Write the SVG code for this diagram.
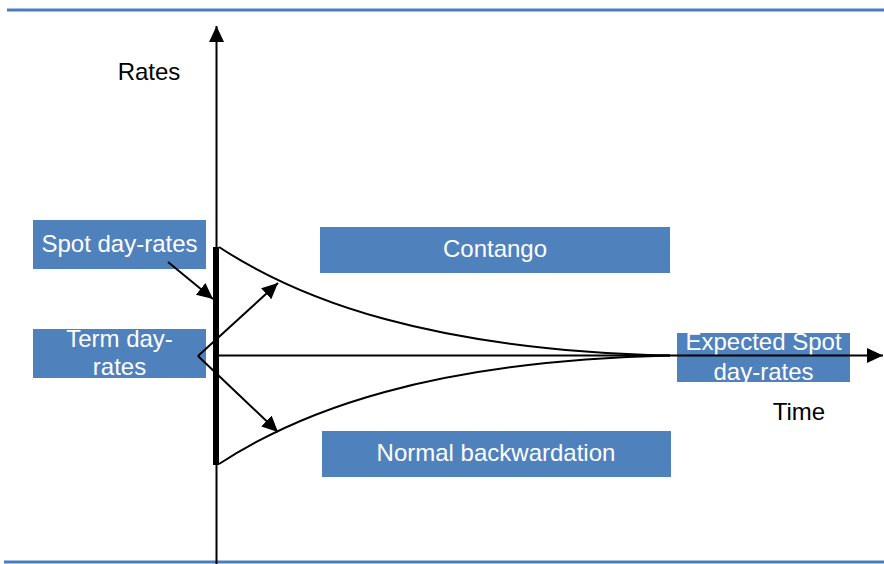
<svg xmlns="http://www.w3.org/2000/svg" width="884" height="564" viewBox="0 0 884 564">
<style>
.box{fill:#4F81BD;}
.lbl{font-family:"Liberation Sans",Arial,sans-serif;font-size:24px;fill:#FFFFFF;text-anchor:middle;}
.txt{font-family:"Liberation Sans",Arial,sans-serif;font-size:24px;fill:#000000;text-anchor:middle;}
.ln{stroke:#000;stroke-width:2;fill:none;}
.rule{stroke:#4A7EBB;stroke-width:3;}
</style>
<defs>
<marker id="ah" markerUnits="userSpaceOnUse" markerWidth="18" markerHeight="18" refX="16" refY="7.5" orient="auto">
<path d="M0,0 L16,7.5 L0,15 z" fill="#000"/>
</marker>
<clipPath id="clipExp"><rect x="677" y="333" width="173" height="49"/></clipPath>
</defs>
<line class="rule" x1="7" y1="10" x2="884" y2="10"/>
<line class="rule" x1="4" y1="562" x2="884" y2="562"/>
<g id="rates"><text class="txt" x="149" y="80">Rates</text></g>
<g id="time"><text class="txt" x="799" y="420">Time</text></g>
<g id="spot">
<rect class="box" x="33" y="220" width="173" height="49"/>
<text class="lbl" x="119.5" y="252">Spot day-rates</text>
</g>
<g id="term">
<rect class="box" x="33" y="329" width="173" height="49"/>
<text class="lbl" x="119.5" y="347">Term day-</text>
<text class="lbl" x="119.5" y="375">rates</text>
</g>
<g id="contango">
<rect class="box" x="320" y="227" width="350" height="46"/>
<text class="lbl" x="495" y="257">Contango</text>
</g>
<g id="backwardation">
<rect class="box" x="322" y="431" width="349" height="46"/>
<text class="lbl" x="496" y="461">Normal backwardation</text>
</g>
<g id="expected">
<rect class="box" x="677" y="333" width="173" height="49"/>
<g clip-path="url(#clipExp)">
<text class="lbl" x="763.5" y="350">Expected Spot</text>
<text class="lbl" x="763.5" y="380">day-rates</text>
</g>
</g>
<g id="connectors">
<line class="ln" x1="216.5" y1="564" x2="216.5" y2="26" marker-end="url(#ah)"/>
<line class="ln" x1="219" y1="355.5" x2="883" y2="355.5" marker-end="url(#ah)"/>
<rect x="213" y="247" width="6" height="218" fill="#000"/>
<path class="ln" d="M219,247 C300,300 430,350 670,355.5"/>
<path class="ln" d="M219,464 C300,411 430,361 670,355.5"/>
<line class="ln" x1="168" y1="262" x2="213" y2="299" marker-end="url(#ah)"/>
<line class="ln" x1="198" y1="356" x2="278" y2="283" marker-end="url(#ah)"/>
<line class="ln" x1="198" y1="356" x2="278" y2="432" marker-end="url(#ah)"/>
</g>
</svg>
